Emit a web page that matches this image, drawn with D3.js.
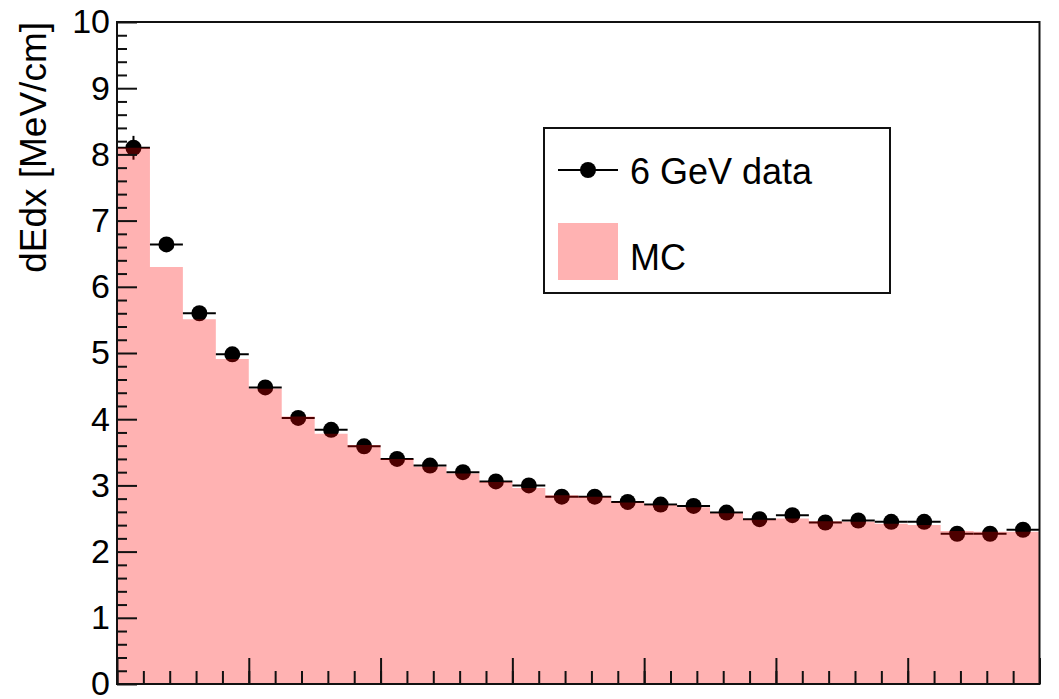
<!DOCTYPE html>
<html>
<head>
<meta charset="utf-8">
<script src="https://cdn.jsdelivr.net/npm/d3@7"></script>
<style>
  html, body { margin: 0; padding: 0; background: #fff; }
  svg { display: block; }
  text { font-family: "Liberation Sans", Arial, Helvetica, sans-serif; fill: #000; }
</style>
</head>
<body>
<svg id="chart" width="1059" height="699"></svg>
<script>
// Bin edges along the horizontal axis (28 bins)
const binEdges = [0, 0.25, 0.5, 0.75, 1, 1.25, 1.5, 1.75, 2, 2.25, 2.5, 2.75, 3, 3.25,
                  3.5, 3.75, 4, 4.25, 4.5, 4.75, 5, 5.25, 5.5, 5.75, 6, 6.25, 6.5, 6.75, 7];

// Measured dE/dx per bin (6 GeV beam data)
const dataValues = [8.10, 6.64, 5.60, 4.98, 4.48, 4.02, 3.84, 3.59, 3.40, 3.30,
                    3.20, 3.06, 3.00, 2.83, 2.83, 2.75, 2.71, 2.69, 2.59, 2.49,
                    2.55, 2.44, 2.47, 2.45, 2.45, 2.27, 2.27, 2.33];
const dataErrors = [0.18, 0.09, 0.08, 0.07, 0.07, 0.06, 0.06, 0.06, 0.05, 0.05,
                    0.05, 0.05, 0.05, 0.05, 0.05, 0.05, 0.05, 0.05, 0.05, 0.05,
                    0.05, 0.05, 0.05, 0.05, 0.05, 0.05, 0.05, 0.05];

// Simulated dE/dx per bin
const mcValues = [8.10, 6.30, 5.51, 4.91, 4.46, 4.04, 3.78, 3.61, 3.40, 3.28,
                  3.18, 3.05, 2.96, 2.85, 2.83, 2.74, 2.70, 2.67, 2.58, 2.48,
                  2.50, 2.46, 2.45, 2.42, 2.40, 2.31, 2.30, 2.30];

const yMajorTicks = [0, 1, 2, 3, 4, 5, 6, 7, 8, 9, 10];
const xMajorTicks = [0, 1, 2, 3, 4, 5, 6, 7];

const yTitle = "dEdx [MeV/cm]";
const legendLabels = ["6 GeV data", "MC"];

// Frame geometry
const frame = { left: 117, right: 1039.5, top: 22, bottom: 684 };
const mcFill = "rgba(255, 0, 0, 0.3)";

const svg = d3.select("#chart");

const x = d3.scaleLinear().domain([binEdges[0], binEdges[binEdges.length - 1]])
  .range([frame.left, frame.right]);
const y = d3.scaleLinear().domain([0, 10]).range([frame.bottom, frame.top]);

// --- data points with error bars (drawn first, MC fill is laid over them) ---
const pts = dataValues.map((v, i) => ({
  lo: binEdges[i], hi: binEdges[i + 1], c: (binEdges[i] + binEdges[i + 1]) / 2,
  v, e: dataErrors[i]
}));

const gData = svg.append("g");
gData.selectAll("line.h").data(pts).join("line")
  .attr("x1", d => x(d.lo)).attr("x2", d => x(d.hi))
  .attr("y1", d => y(d.v)).attr("y2", d => y(d.v))
  .attr("stroke", "#000").attr("stroke-width", 2);
gData.selectAll("line.v").data(pts).join("line")
  .attr("x1", d => x(d.c)).attr("x2", d => x(d.c))
  .attr("y1", d => y(d.v - d.e)).attr("y2", d => y(d.v + d.e))
  .attr("stroke", "#000").attr("stroke-width", 2);
gData.selectAll("circle").data(pts).join("circle")
  .attr("cx", d => x(d.c)).attr("cy", d => y(d.v)).attr("r", 8)
  .attr("fill", "#000");

// --- MC histogram, semi-transparent fill ---
const mcPts = mcValues.map((v, i) => ({ x: binEdges[i], v }));
mcPts.push({ x: binEdges[binEdges.length - 1], v: mcValues[mcValues.length - 1] });
const area = d3.area()
  .x(d => x(d.x)).y0(y(0)).y1(d => y(d.v))
  .curve(d3.curveStepAfter);
svg.append("path").datum(mcPts).attr("d", area).attr("fill", mcFill);

// --- axes (ticks point into the frame) ---
const yMinor = d3.range(0, 50).map(i => i * 0.2).filter(v => !yMajorTicks.includes(Math.round(v * 10) / 10));
const xMinor = d3.range(0, 35).map(i => i * 0.2);

const yAxis = svg.append("g").attr("transform", `translate(${frame.left},0)`)
  .call(d3.axisLeft(y).tickValues(yMajorTicks).tickSize(-20).tickPadding(7)
    .tickFormat(d3.format("d")));
svg.append("g").attr("transform", `translate(${frame.left},0)`)
  .call(d3.axisLeft(y).tickValues(yMinor).tickSize(-10).tickFormat(""));
svg.append("g").attr("transform", `translate(0,${frame.bottom})`)
  .call(d3.axisBottom(x).tickValues(xMajorTicks).tickSize(-26).tickFormat(""));
svg.append("g").attr("transform", `translate(0,${frame.bottom})`)
  .call(d3.axisBottom(x).tickValues(xMinor).tickSize(-13).tickFormat(""));

svg.selectAll(".domain").remove();
svg.selectAll(".tick line").attr("stroke", "#111").attr("stroke-width", 2);
yAxis.selectAll(".tick text").attr("font-size", 34).attr("fill", "#000")
  .attr("font-family", "Liberation Sans, Arial, sans-serif");

// frame
svg.append("rect")
  .attr("x", frame.left).attr("y", frame.top)
  .attr("width", frame.right - frame.left).attr("height", frame.bottom - frame.top)
  .attr("fill", "none").attr("stroke", "#111").attr("stroke-width", 2);

// y title, aligned to the top of the axis
svg.append("text")
  .attr("transform", `translate(46,${frame.top}) rotate(-90)`)
  .attr("text-anchor", "end")
  .attr("font-size", 37)
  .text(yTitle);

// --- legend ---
const lg = svg.append("g");
lg.append("rect").attr("x", 544).attr("y", 128).attr("width", 346).attr("height", 165)
  .attr("fill", "#fff").attr("stroke", "#111").attr("stroke-width", 2);
lg.append("line").attr("x1", 558).attr("x2", 618).attr("y1", 170).attr("y2", 170)
  .attr("stroke", "#000").attr("stroke-width", 2);
lg.append("circle").attr("cx", 588).attr("cy", 170).attr("r", 8).attr("fill", "#000");
lg.append("text").attr("x", 630).attr("y", 184).attr("font-size", 36).text(legendLabels[0]);
lg.append("rect").attr("x", 558).attr("y", 223).attr("width", 60).attr("height", 57)
  .attr("fill", mcFill);
lg.append("text").attr("x", 630).attr("y", 270).attr("font-size", 36).text(legendLabels[1]);
</script>
</body>
</html>
